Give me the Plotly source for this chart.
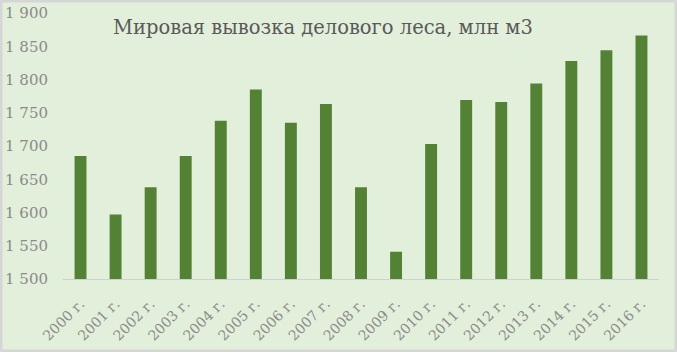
import plotly.graph_objects as go

years = ["2000 г.", "2001 г.", "2002 г.", "2003 г.", "2004 г.", "2005 г.", "2006 г.", "2007 г.",
         "2008 г.", "2009 г.", "2010 г.", "2011 г.", "2012 г.", "2013 г.", "2014 г.", "2015 г.", "2016 г."]
values = [1685, 1597, 1638, 1685, 1738, 1785, 1735, 1763, 1638, 1541, 1703, 1769, 1766, 1794, 1828, 1844, 1866]
y_ticks = [1500, 1550, 1600, 1650, 1700, 1750, 1800, 1850, 1900]
y_tick_text = ["1 500", "1 550", "1 600", "1 650", "1 700", "1 750", "1 800", "1 850", "1 900"]

W, H = 677, 352
L, R, T, B = 63, 18, 13, 73
pw, ph = W - L - R, H - T - B
SERIF = "DejaVu Serif, Liberation Serif, serif"

fig = go.Figure(go.Bar(x=years, y=values, marker_color="#548235", marker_line_width=0, width=0.34))

fig.update_layout(
    width=W, height=H,
    margin=dict(l=L, r=R, t=T, b=B, autoexpand=False),
    paper_bgcolor="#e2efda", plot_bgcolor="#e2efda",
    showlegend=False,
    font=dict(family=SERIF, color="#8a8a8a"),
    title=dict(text="Мировая вывозка делового леса, млн м3", x=(323 - L) / pw, xref="paper", xanchor="center",
               y=1 - 27 / H, yref="container", yanchor="middle",
               font=dict(size=19.5, color="#595959", family=SERIF)),
    bargap=0.66,
)
fig.update_yaxes(range=[1500, 1900], tickvals=y_ticks, ticktext=y_tick_text, showgrid=False, zeroline=False,
                 showline=False, tickfont=dict(size=15, color="#8a8a8a"), ticks="", ticklabelstandoff=14,
                 automargin=False)
fig.update_xaxes(showline=True, linecolor="#d0d0d0", linewidth=1, tickangle=-45, showgrid=False,
                 tickfont=dict(size=14, color="#8a8a8a"), ticks="", ticklabelstandoff=10, automargin=False)

fig.add_shape(type="rect", xref="paper", yref="paper",
              x0=-L / pw, x1=1 + R / pw, y0=-B / ph, y1=1 + T / ph,
              line=dict(color="#d6d6d6", width=5), fillcolor="rgba(0,0,0,0)", layer="above")

fig.write_html("out.html")
